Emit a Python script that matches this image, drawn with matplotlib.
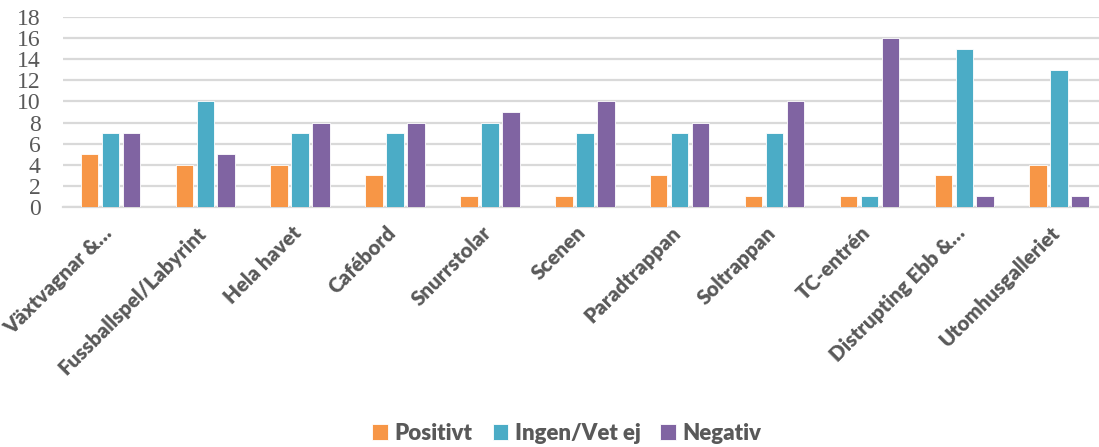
import numpy as np
import matplotlib
matplotlib.use('Agg')
import matplotlib.pyplot as plt
from matplotlib.transforms import ScaledTranslation

# Data
categories = ['Växtvagnar &…', 'Fussballspel/Labyrint', 'Hela havet', 'Cafébord',
              'Snurrstolar', 'Scenen', 'Paradtrappan', 'Soltrappan', 'TC-entrén',
              'Distrupting Ebb &…', 'Utomhusgalleriet']
positivt = [5, 4, 4, 3, 1, 1, 3, 1, 1, 3, 4]
ingen = [7, 10, 7, 7, 8, 7, 7, 7, 1, 15, 13]
negativ = [7, 5, 8, 8, 9, 10, 8, 10, 16, 1, 1]
series_names = ['Positivt', 'Ingen/Vet ej', 'Negativ']

colors = ['#F79646', '#4BACC6', '#8064A2']
text_color = '#595959'
grid_color = '#D9D9D9'

fig = plt.figure(figsize=(10.99, 4.47), dpi=100)
ax = fig.add_axes([63 / 1099, 1 - 206.7 / 447, 1 - 63 / 1099, (206.7 - 17.3) / 447])

x = np.arange(len(categories))
width = 0.185
step = 0.221
for i, (vals, name) in enumerate(zip([positivt, ingen, negativ], series_names)):
    ax.bar(x + (i - 1) * step, vals, width, color=colors[i], label=name,
           edgecolor='white', linewidth=0.6, zorder=3)

ax.set_xlim(-0.5, 10.42)
ax.set_ylim(0, 18)
ax.set_yticks(range(0, 19, 2))
ax.yaxis.grid(True, color=grid_color, linewidth=1.6, zorder=0)
ax.set_axisbelow(True)
for s in ['top', 'right', 'left']:
    ax.spines[s].set_visible(False)
ax.spines['bottom'].set_color(grid_color)
ax.spines['bottom'].set_linewidth(1.6)
ax.tick_params(axis='both', length=0)
ax.tick_params(axis='y', pad=16)

for lab in ax.get_yticklabels():
    lab.set_fontfamily('Liberation Serif')
    lab.set_fontsize(17)
    lab.set_color(text_color)

ax.set_xticks(x)
ax.set_xticklabels(categories, rotation=45, ha='right', va='center',
                   rotation_mode='anchor', fontfamily='Lato', fontweight='heavy',
                   fontsize=14.8, color=text_color)
offset = ScaledTranslation(-2 / 100, -18 / 100, fig.dpi_scale_trans)
for lab in ax.get_xticklabels():
    lab.set_transform(lab.get_transform() + offset)

leg = fig.legend(loc='center', bbox_to_anchor=(567 / 1099, 1 - 433 / 447), ncol=3,
                 frameon=False, handlelength=0.7, handleheight=0.7,
                 handletextpad=0.3, columnspacing=0.9,
                 prop={'family': 'Lato', 'weight': 'heavy', 'size': 16})
for t in leg.get_texts():
    t.set_color(text_color)

fig.savefig('out.png', dpi=100)
